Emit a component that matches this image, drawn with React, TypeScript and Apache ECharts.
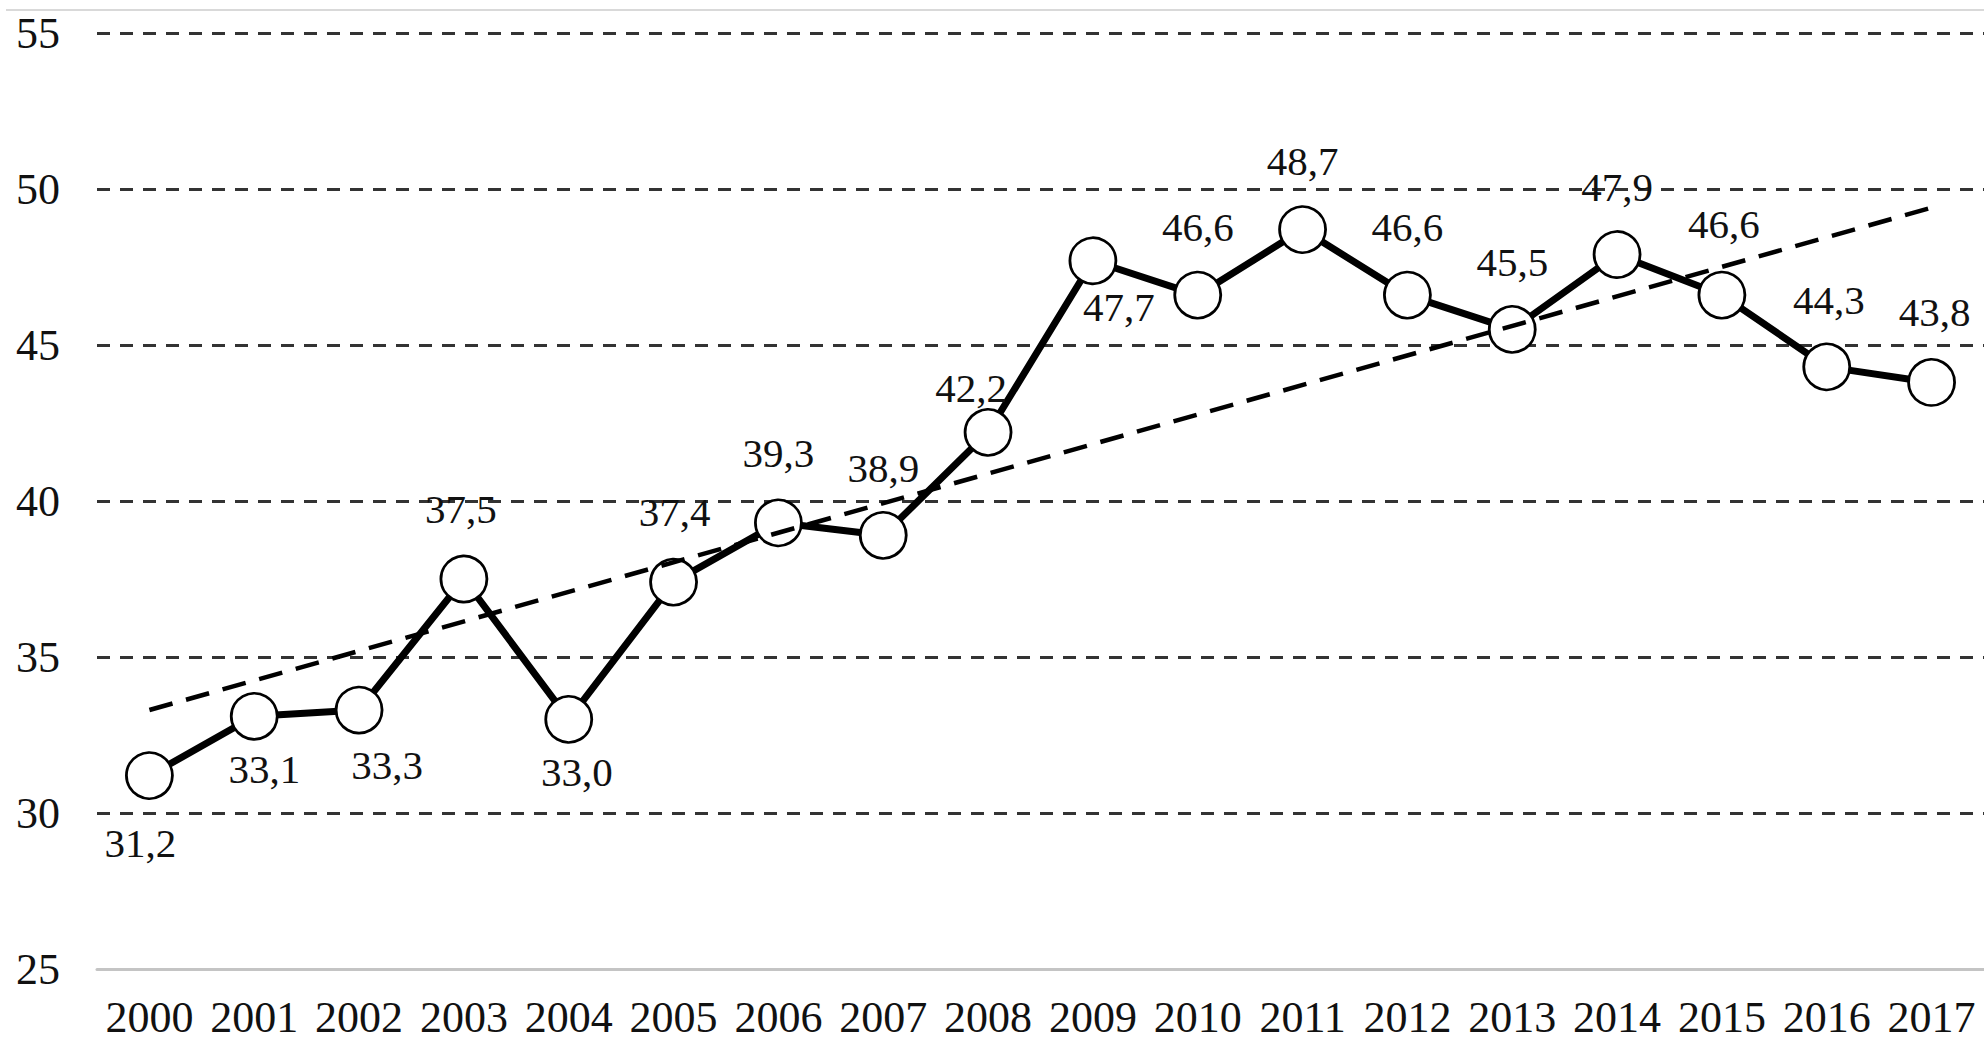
import React, { useEffect, useRef } from "react";
import * as echarts from "echarts";

const years = ["2000","2001","2002","2003","2004","2005","2006","2007","2008","2009","2010","2011","2012","2013","2014","2015","2016","2017"];
const values = [31.2,33.1,33.3,37.5,33.0,37.4,39.3,38.9,42.2,47.7,46.6,48.7,46.6,45.5,47.9,46.6,44.3,43.8];
const trendYears = ["2000","2017"];
const trendValues = [33.3,49.4];
const yTicks = [25,30,35,40,45,50,55];

// label offsets (dx, dy) relative to the marker centre
const labelOffsets: [number, number][] = [
  [-9,67],[10,53],[28,55],[-3,-70],[8,53],[1,-70],[0,-70],[0,-67],[-17,-44],
  [26,46],[0,-68],[0,-69],[0,-68],[0,-67],[0,-68],[2,-71],[2,-67],[3,-70],
];

const fmt = (v: number) => v.toFixed(1).replace(".", ",");

export default function App() {
  const ref = useRef<HTMLDivElement>(null);
  useEffect(() => {
    if (!ref.current) return;
    const chart = echarts.init(ref.current, null, { renderer: "svg" });
    const font = "'Liberation Serif', 'Times New Roman', serif";
    chart.setOption({
      animation: false,
      backgroundColor: "#ffffff",
      grid: { left: 97, right: 0, top: 33, bottom: 71, containLabel: false },
      graphic: [
        { type: "line", shape: { x1: 6, y1: 10, x2: 1984, y2: 10 }, style: { stroke: "#d9d9d9", lineWidth: 2 }, silent: true },
      ],
      xAxis: {
        type: "category",
        data: years,
        boundaryGap: true,
        axisLine: { show: true, lineStyle: { color: "#c4c4c4", width: 3 } },
        axisTick: { show: false },
        axisLabel: { color: "#111", fontFamily: font, fontSize: 44, margin: 26, interval: 0 },
        splitLine: { show: false },
      },
      yAxis: {
        type: "value",
        min: yTicks[0],
        max: yTicks[yTicks.length - 1],
        interval: 5,
        axisLine: { show: false },
        axisTick: { show: false },
        axisLabel: { color: "#111", fontFamily: font, fontSize: 44, margin: 37 },
        splitLine: { show: true, showMinLine: false, lineStyle: { color: "#333", width: 3, type: [13, 10] } },
      },
      series: [
        {
          type: "line",
          data: values.map((v, i) => ({
            value: v,
            label: { offset: labelOffsets[i] },
          })),
          z: 2,
          lineStyle: { color: "#000", width: 7 },
          symbol: "circle",
          symbolSize: 46,
          itemStyle: { color: "#fff", borderColor: "#000", borderWidth: 2.8 },
          label: {
            show: true,
            position: "inside",
            color: "#111",
            fontFamily: font,
            fontSize: 41,
            formatter: (p: any) => fmt(p.value),
          },
        },
        {
          type: "line",
          data: trendYears.map((y, i) => [y, trendValues[i]]),
          z: 3,
          symbol: "none",
          lineStyle: { color: "#000", width: 4.5, type: [24, 14] },
          silent: true,
        },
      ],
    });
    return () => chart.dispose();
  }, []);
  return (
    <div
      ref={ref}
      style={{ position: "fixed", left: 0, top: 0, width: 1984, height: 1040, background: "#fff" }}
    />
  );
}
